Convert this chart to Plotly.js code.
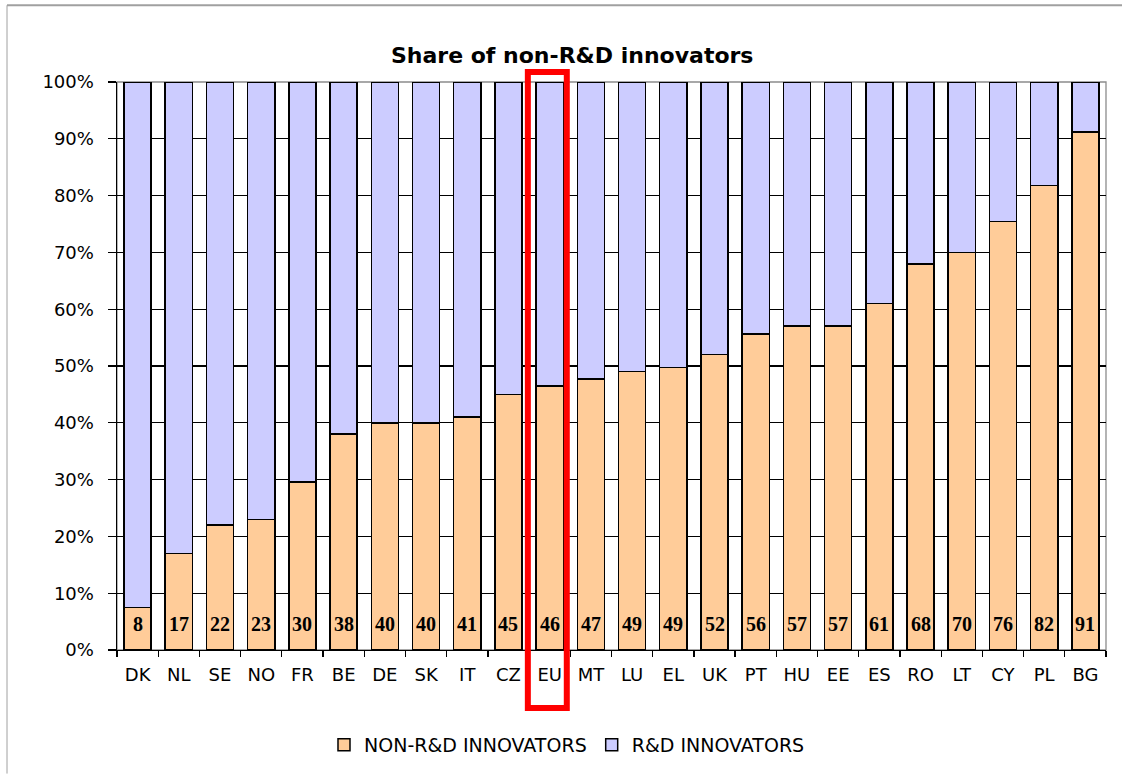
<!DOCTYPE html>
<html>
<head>
<meta charset="utf-8">
<script src="https://cdn.plot.ly/plotly-3.0.1.min.js"></script>
<style>
  html, body { margin: 0; padding: 0; background: #fff; overflow: hidden; }
  #chart { width: 1122px; height: 776px; }
</style>
</head>
<body>
<div id="chart"></div>
<script>
const countries = ["DK","NL","SE","NO","FR","BE","DE","SK","IT","CZ","EU","MT","LU","EL","UK","PT","HU","EE","ES","RO","LT","CY","PL","BG"];
const nonRdShare = [7.5,17,22,23,29.6,38,40,40,41,45,46.5,47.7,49,49.7,52,55.6,57,57,61,68,70,75.4,81.8,91.2];
const rdShare = [92.5,83,78,77,70.4,62,60,60,59,55,53.5,52.3,51,50.3,48,44.4,43,43,39,32,30,24.6,18.2,8.8];
const nonRdLabels = ["8","17","22","23","30","38","40","40","41","45","46","47","49","49","52","56","57","57","61","68","70","76","82","91"];
const highlighted = "EU";
const yTickVals = [0,10,20,30,40,50,60,70,80,90,100];
const yTickText = ["0%","10%","20%","30%","40%","50%","60%","70%","80%","90%","100%"];

const tickFont = { family: "DejaVu Sans, Arial, sans-serif", size: 18, color: "#000" };

const traces = [
  {
    type: "bar", name: "NON-R&D INNOVATORS", x: countries, y: nonRdShare,
    marker: { color: "#FFCC99", line: { color: "#000", width: 1.5 } },
    hoverinfo: "x+y"
  },
  {
    type: "bar", name: "R&D INNOVATORS", x: countries, y: rdShare,
    marker: { color: "#CCCCFF", line: { color: "#000", width: 1.5 } },
    hoverinfo: "x+y"
  }
];

const labelAnnotations = countries.map((c, i) => ({
  x: c, y: 0, xref: "x", yref: "y", yshift: 26, yanchor: "middle",
  text: "<b>" + nonRdLabels[i] + "</b>", showarrow: false,
  font: { family: "Liberation Serif, Times New Roman, serif", size: 20, color: "#000" }
}));

const n = countries.length;
const hi = countries.indexOf(highlighted);

// outer chart frame (left and top edges only), in paper units
const W = 1122, H = 776, ML = 117, MR = 16, MT = 82, MB = 124;
const pw = W - ML - MR, ph = H - MT - MB;
const frameLeft = (7 - ML) / pw, frameRight = (W - ML) / pw;
const frameTop = (H - MB - 5) / ph, frameBottom = -MB / ph;

const layout = {
  width: W, height: H,
  paper_bgcolor: "#fff", plot_bgcolor: "#fff",
  margin: { l: ML, r: MR, t: MT, b: MB },
  barmode: "stack", bargap: 0.34,
  title: {
    text: "<b>Share of non-R&D innovators</b>",
    font: { family: "DejaVu Sans, Arial, sans-serif", size: 22, color: "#000" },
    x: 0.51, xref: "container", xanchor: "center",
    y: 1 - 55 / H, yref: "container", yanchor: "middle"
  },
  xaxis: {
    type: "category", range: [-0.5, n - 0.5],
    showgrid: false, showline: true, linecolor: "#000", linewidth: 1.3,
    ticks: "outside", tickson: "boundaries", ticklen: 6, tickcolor: "#000", tickwidth: 1.3,
    tickfont: tickFont, ticklabelstandoff: 8, fixedrange: true
  },
  yaxis: {
    range: [0, 100], tickvals: yTickVals, ticktext: yTickText,
    showgrid: true, gridcolor: "#000000", gridwidth: 1.3,
    zeroline: false, showline: true, linecolor: "#000", linewidth: 1.5,
    ticks: "outside", ticklen: 8, tickcolor: "#000", tickwidth: 1.3,
    tickfont: tickFont, ticklabelstandoff: 10, fixedrange: true
  },
  legend: {
    orientation: "h", x: 0.455, xanchor: "center", y: -0.167, yanchor: "middle",
    font: { family: "DejaVu Sans, Arial, sans-serif", size: 19, color: "#000" },
    itemwidth: 30, tracegroupgap: 0, traceorder: "normal"
  },
  showlegend: true,
  annotations: labelAnnotations,
  shapes: [
    {
      type: "rect", xref: "paper", yref: "paper", x0: 0, x1: 1, y0: 0, y1: 1,
      line: { color: "#8c8c8c", width: 1.3 }, fillcolor: "rgba(0,0,0,0)", layer: "below"
    },
    {
      type: "line", xref: "paper", yref: "paper", x0: frameLeft, x1: frameLeft, y0: frameBottom, y1: frameTop,
      line: { color: "#a0a0a0", width: 1 }, layer: "above"
    },
    {
      type: "line", xref: "paper", yref: "paper", x0: frameLeft, x1: frameRight, y0: frameTop, y1: frameTop,
      line: { color: "#a0a0a0", width: 2 }, layer: "above"
    },
    {
      type: "rect", xref: "paper", yref: "paper",
      x0: (hi + 0.5 - 0.53) / n, x1: (hi + 0.5 + 0.415) / n,
      y0: -0.102, y1: 1.0175,
      line: { color: "#ff0000", width: 6 }, fillcolor: "rgba(0,0,0,0)", layer: "above"
    }
  ]
};

Plotly.newPlot("chart", traces, layout, { displayModeBar: false, staticPlot: true });
</script>
</body>
</html>
